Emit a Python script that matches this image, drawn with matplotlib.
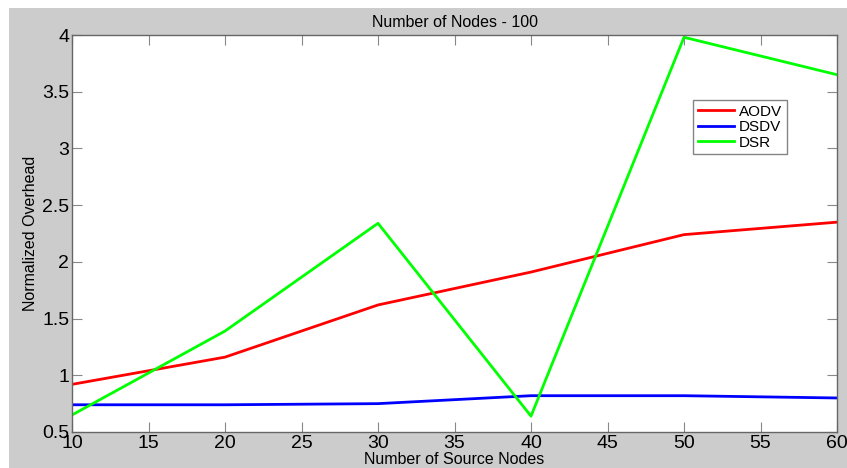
import matplotlib
matplotlib.use("Agg")
import matplotlib.pyplot as plt
import matplotlib.patches as mpatches

plt.rcParams['font.family'] = ['Liberation Sans', 'DejaVu Sans']

# data
source_nodes = [10, 20, 30, 40, 50, 60]
aodv = [0.92, 1.16, 1.62, 1.91, 2.24, 2.35]
dsdv = [0.74, 0.74, 0.75, 0.82, 0.82, 0.80]
dsr = [0.65, 1.39, 2.34, 0.64, 3.98, 3.65]

x_ticks = [10, 15, 20, 25, 30, 35, 40, 45, 50, 55, 60]
y_ticks = [0.5, 1, 1.5, 2, 2.5, 3, 3.5, 4]
y_ticklabels = ['0.5', '1', '1.5', '2', '2.5', '3', '3.5', '4']

fig = plt.figure(figsize=(8.47, 4.68), dpi=100, facecolor='white')
# gray matlab-like background, with a thin white strip at left/top
fig.patches.append(mpatches.Rectangle((9 / 847, 0), 1 - 9 / 847, 1 - 8 / 468,
                                      transform=fig.transFigure, facecolor='#cccccc',
                                      edgecolor='none', zorder=-10))

ax = fig.add_axes([72 / 847, 36 / 468, 765 / 847, 397 / 468])
ax.set_facecolor('white')

ax.plot(source_nodes, aodv, color='#ff0000', lw=2, label='AODV')
ax.plot(source_nodes, dsdv, color='#0000ff', lw=2, label='DSDV')
ax.plot(source_nodes, dsr, color='#00ff00', lw=2, label='DSR')

ax.set_xlim(10, 60)
ax.set_ylim(0.5, 4)
ax.set_xticks(x_ticks)
ax.set_yticks(y_ticks)
ax.set_yticklabels(y_ticklabels)

for s in ax.spines.values():
    s.set_color('#666666')
    s.set_linewidth(1)
ax.tick_params(direction='in', length=7, width=0.8, color='#888888',
               top=True, right=True, labelsize=14, pad=2)

ax.set_title('Number of Nodes - 100', fontsize=11.5, pad=6)
ax.set_xlabel('Number of Source Nodes', fontsize=11.5, labelpad=0)
ax.set_ylabel('Normalized Overhead', fontsize=11.5, labelpad=3)

leg = ax.legend(loc='upper left', bbox_to_anchor=(0.812, 0.836), fontsize=11,
                frameon=True, fancybox=False, borderaxespad=0, handlelength=2.4,
                handletextpad=0.3, labelspacing=0.1, borderpad=0.3)
leg.get_frame().set_edgecolor('#666666')
leg.get_frame().set_linewidth(1)

fig.savefig('out.png', dpi=100, facecolor=fig.get_facecolor())
